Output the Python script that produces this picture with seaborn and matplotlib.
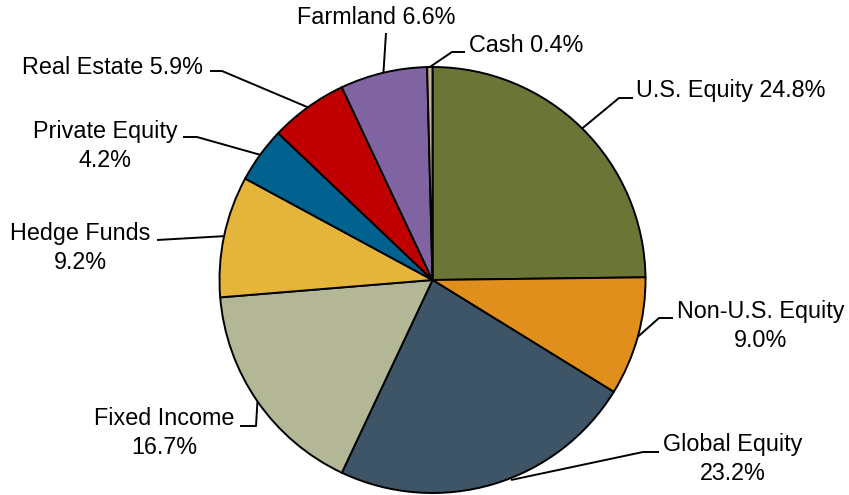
import numpy as np
import matplotlib
matplotlib.use("Agg")
import matplotlib.pyplot as plt
import seaborn as sns

# ---- data ----
categories = ["U.S. Equity", "Non-U.S. Equity", "Global Equity", "Fixed Income",
              "Hedge Funds", "Private Equity", "Real Estate", "Farmland", "Cash"]
values = [24.8, 9.0, 23.2, 16.7, 9.2, 4.2, 5.9, 6.6, 0.4]
label_texts = ["U.S. Equity 24.8%", "Non-U.S. Equity\n9.0%", "Global Equity\n23.2%",
               "Fixed Income\n16.7%", "Hedge Funds\n9.2%", "Private Equity\n4.2%",
               "Real Estate 5.9%", "Farmland 6.6%", "Cash 0.4%"]
colors = ["#6B7636", "#E08F1C", "#3D5567", "#B3B796", "#E4B43B",
          "#02628F", "#C00000", "#8064A2", "#C4B494"]

sns.set_theme(style="white")
plt.rcParams['font.family'] = ['Liberation Sans', 'DejaVu Sans']

W, H = 849, 495
fig = plt.figure(figsize=(W / 100, H / 100), dpi=100)
ax = fig.add_axes([0, 0, 1, 1])

cx, cy, R = 432.5, H - 280, 213
wedges, _ = ax.pie(values, colors=sns.color_palette(colors), startangle=90,
                   counterclock=False, center=(cx, cy), radius=R, frame=True,
                   wedgeprops=dict(edgecolor='black', linewidth=1.4))
ax.set_xlim(0, W)
ax.set_ylim(0, H)
ax.set_aspect('equal')
ax.axis('off')

# label layout (pixel coords from top): text x, text y, ha, leader elbow points
layout = {
    "U.S. Equity":     (636, 91, 'left',   [(619, 98), (633, 98)]),
    "Non-U.S. Equity": (761, 326, 'center', [(659, 318), (673, 318)]),
    "Global Equity":   (733, 459, 'center', [(643, 452), (659, 452)]),
    "Fixed Income":    (164, 433, 'center', [(256, 426), (240, 426)]),
    "Hedge Funds":     (80, 248, 'center',  [(157, 240)]),
    "Private Equity":  (105, 146, 'center', [(197, 137), (183, 137)]),
    "Real Estate":     (22, 67, 'left',     [(222, 71), (210, 71)]),
    "Farmland":        (376, 17, 'center',  [(386, 33)]),
    "Cash":            (469, 45, 'left',    [(452, 52), (465, 52)]),
}

fs = 16.8
for w, cat, txt in zip(wedges, categories, label_texts):
    tx, ty, ha, pts = layout[cat]
    mid = np.deg2rad((w.theta1 + w.theta2) / 2)
    sx, sy = cx + R * np.cos(mid), cy + R * np.sin(mid)
    if cat == "Global Equity":
        sx, sy = 511, H - 480
    xs = [sx] + [p[0] for p in pts]
    ys = [sy] + [H - p[1] for p in pts]
    ax.plot(xs, ys, color='black', linewidth=1.4, solid_capstyle='butt')
    ax.text(tx, H - ty, txt, ha=ha, va='center', fontsize=fs,
            color='black', linespacing=1.3, multialignment='center')

fig.savefig("out.png", dpi=100)
